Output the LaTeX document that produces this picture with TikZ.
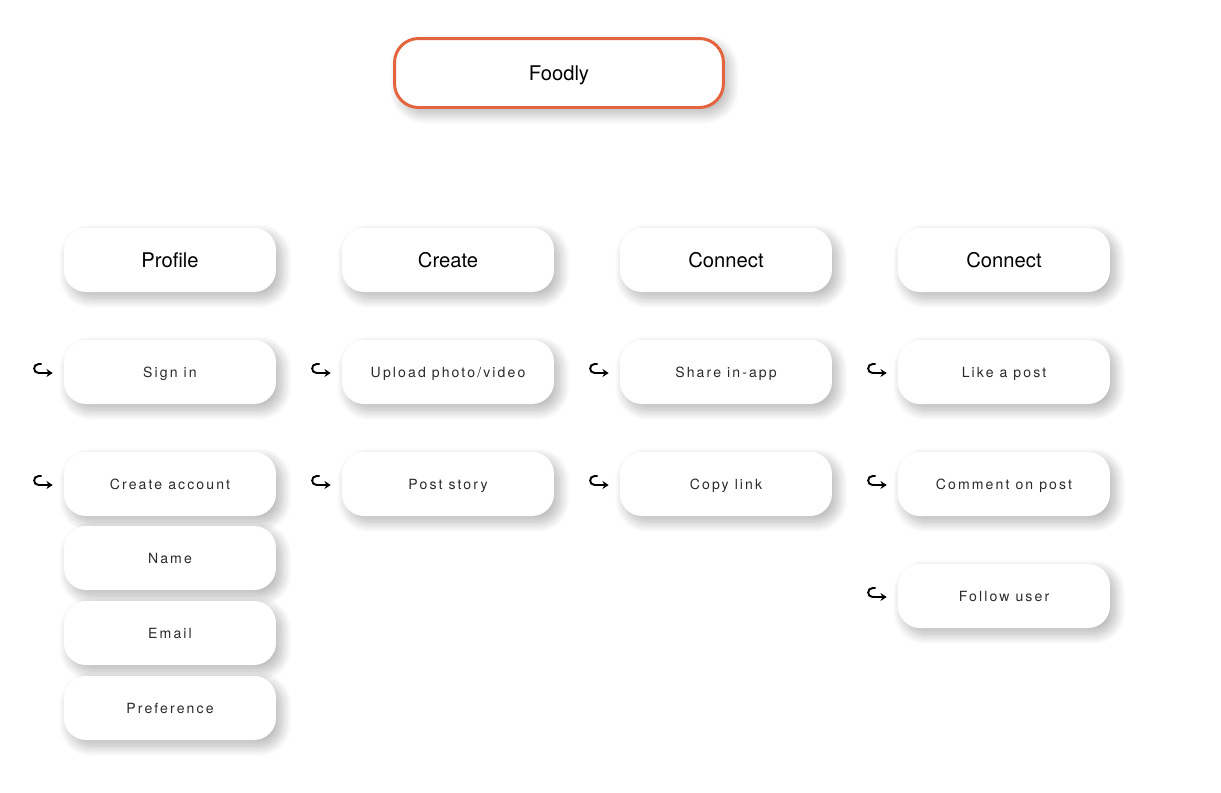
\documentclass[tikz,border=0pt]{standalone}
\usepackage{fontspec}
\usepackage{xcolor}
\usetikzlibrary{positioning, shadows.blur, arrows.meta}
\newfontfamily\headfont{TeX Gyre Heros}
\newfontfamily\itemfont[LetterSpace=15]{TeX Gyre Heros}
\definecolor{myorange}{HTML}{E4643F}
\definecolor{mytext}{HTML}{2B2B2B}

\begin{document}
\begin{tikzpicture}[x=0.02cm, y=-0.02cm,
		card/.style={fill=white, rounded corners=0.44cm, minimum width=4.24cm, minimum height=1.28cm, inner sep=0pt,
			blur shadow={shadow xshift=3pt, shadow yshift=-3.5pt, shadow blur radius=6pt, shadow blur steps=24, shadow opacity=30}},
		head/.style={card, font=\headfont\fontsize{11.5}{13}\selectfont, text height=8.2pt, text depth=0pt},
		item/.style={card, font=\itemfont\fontsize{8}{10}\selectfont, text=mytext, text height=5.8pt, text depth=0pt},
		hookline/.style={line width=1.1pt, -{Stealth[length=3.5pt, width=4.5pt]}}]
		\useasboundingbox (0,0) rectangle (1221,792);
		% title
		\node[head, draw=myorange, line width=1.7pt, rounded corners=0.48cm, minimum width=6.58cm, minimum height=1.38cm] (foodly) at (559,73) {Foodly};
		% column heads
		\node[head] (profile) at (170,260) {Profile};
		\node[head] (create) at (448,260) {Create};
		\node[head] (share) at (726,260) {Connect};
		\node[head] (social) at (1004,260) {Connect};
		% profile
		\node[item] (signin) at (170,372) {Sign in};
		\node[item] (account) at (170,484) {Create account};
		\node[item] (name) at (170,558) {Name};
		\node[item] (email) at (170,633) {Email};
		\node[item] (pref) at (170,708) {Preference};
		% create
		\node[item] (upload) at (448,372) {Upload photo/video};
		\node[item] (story) at (448,484) {Post story};
		% share
		\node[item] (inapp) at (726,372) {Share in-app};
		\node[item] (copy) at (726,484) {Copy link};
		% social
		\node[item] (like) at (1004,372) {Like a post};
		\node[item] (comment) at (1004,484) {Comment on post};
		\node[item] (follow) at (1004,596) {Follow user};
		% hook arrows
		\foreach \n in {signin, account, upload, story, inapp, copy, like, comment, follow}
			\draw[hookline, shift={(\n.west)}] (-22,-8) -- (-25,-8) .. controls (-31,-8) and (-31,1) .. (-25,1) -- (-11,1);
	\end{tikzpicture}
\end{document}
